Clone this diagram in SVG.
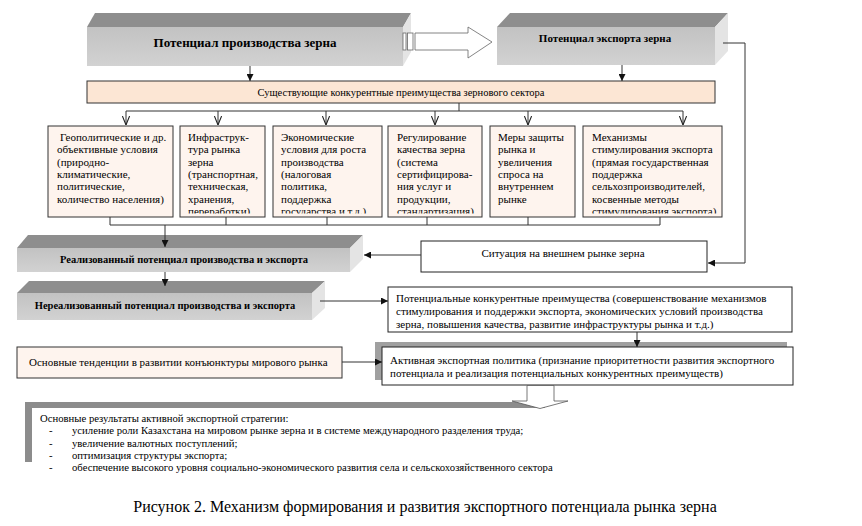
<svg xmlns="http://www.w3.org/2000/svg" width="862" height="526" viewBox="0 0 862 526">
<defs>
<style>
text{font-family:"Liberation Serif","Times New Roman",serif;fill:#000}
.t{font-size:11px}
.r{font-size:10.7px}
.b{font-weight:bold;font-size:11px}
.top{fill:#8e8e8e}
.front{fill:url(#fg)}
.side{fill:#e4e4e4}
.box{fill:#fef4ee;stroke:#333;stroke-width:1}
.wbox{fill:#fff;stroke:#222;stroke-width:1}
.ln{fill:none;stroke:#333;stroke-width:1}
</style>
<linearGradient id="fg" x1="0" y1="0" x2="0" y2="1">
<stop offset="0" stop-color="#c2c2c2"/>
<stop offset="1" stop-color="#d2d2d2"/>
</linearGradient>
<marker id="ah" viewBox="0 0 10 10" refX="10" refY="5" markerWidth="7" markerHeight="7" orient="auto" markerUnits="userSpaceOnUse">
<path d="M0,0 L10,5 L0,10 z" fill="#111"/>
</marker>
<marker id="av" viewBox="0 0 10 10" refX="10" refY="5" markerWidth="9" markerHeight="9" orient="auto" markerUnits="userSpaceOnUse">
<path d="M0,1 L10,5 L0,9" fill="none" stroke="#222" stroke-width="1.2"/>
</marker>
<clipPath id="c6"><rect x="40" y="126" width="700" height="87.5"/></clipPath>
</defs>

<g id="prod-potential">
<polygon class="top" points="87,27 95,13 411,13 403,27"/>
<rect class="front" x="87" y="27" width="316" height="39"/>
<polygon class="side" points="403,27 411,13 411,52 403,66"/>
<text class="b" style="font-size:13px" x="245" y="47" text-anchor="middle">Потенциал производства зерна</text>
</g>

<g id="striped-arrow">
<rect x="403" y="33" width="3" height="17" fill="#fff" stroke="#666" stroke-width="0.8"/>
<rect x="407.5" y="33" width="5.5" height="17" fill="#fff" stroke="#666" stroke-width="0.8"/>
<polygon points="415,33 468,33 468,27 492,42 468,58 468,50 415,50" fill="#fff" stroke="#666" stroke-width="0.8"/>
</g>

<g id="export-potential">
<polygon class="top" points="497,27 510,13 728,13 715,27"/>
<rect class="front" x="497" y="27" width="218" height="38"/>
<polygon class="side" points="715,27 728,13 728,51 715,65"/>
<text class="b" x="605" y="42" text-anchor="middle">Потенциал экспорта зерна</text>
</g>

<g id="existing-advantages">
<rect x="87" y="81" width="628" height="22" fill="#fce6d4" stroke="#333"/>
<text class="t" style="font-size:10.5px" x="401" y="96" text-anchor="middle">Существующие конкурентные преимущества зернового сектора</text>
</g>

<g id="geo">
<rect class="box" x="48" y="126" width="125" height="91"/>
<text class="t" clip-path="url(#c6)" x="60" y="141">Геополитические и др.<tspan x="57" dy="12.3">объективные условия</tspan><tspan x="57" dy="12.3">(природно-</tspan><tspan x="57" dy="12.3">климатические,</tspan><tspan x="57" dy="12.3">политические,</tspan><tspan x="57" dy="12.3">количество населения)</tspan></text>
</g>
<g id="infra">
<rect class="box" x="180" y="126" width="85" height="91"/>
<text class="t" clip-path="url(#c6)" x="188" y="141">Инфраструк-<tspan x="188" dy="12.3">тура рынка</tspan><tspan x="188" dy="12.3">зерна</tspan><tspan x="188" dy="12.3">(транспортная,</tspan><tspan x="188" dy="12.3">техническая,</tspan><tspan x="188" dy="12.3">хранения,</tspan><tspan x="188" dy="12.3">переработки)</tspan></text>
</g>
<g id="econ">
<rect class="box" x="273" y="126" width="109" height="91"/>
<text class="t" clip-path="url(#c6)" x="281" y="141">Экономические<tspan x="281" dy="12.3">условия для роста</tspan><tspan x="281" dy="12.3">производства</tspan><tspan x="281" dy="12.3">(налоговая</tspan><tspan x="281" dy="12.3">политика,</tspan><tspan x="281" dy="12.3">поддержка</tspan><tspan x="281" dy="12.3">государства и т.д.)</tspan></text>
</g>
<g id="quality">
<rect class="box" x="388" y="126" width="94" height="91"/>
<text class="t" clip-path="url(#c6)" x="397" y="141">Регулирование<tspan x="397" dy="12.3">качества зерна</tspan><tspan x="397" dy="12.3">(система</tspan><tspan x="397" dy="12.3">сертифицирова-</tspan><tspan x="397" dy="12.3">ния услуг и</tspan><tspan x="397" dy="12.3">продукции,</tspan><tspan x="397" dy="12.3">стандартизация)</tspan></text>
</g>
<g id="protection">
<rect class="box" x="490" y="126" width="85" height="91"/>
<text class="t" clip-path="url(#c6)" x="498" y="141">Меры защиты<tspan x="498" dy="12.3">рынка и</tspan><tspan x="498" dy="12.3">увеличения</tspan><tspan x="498" dy="12.3">спроса на</tspan><tspan x="498" dy="12.3">внутреннем</tspan><tspan x="498" dy="12.3">рынке</tspan></text>
</g>
<g id="stimulus">
<rect class="box" x="583" y="126" width="139" height="91"/>
<text class="t" clip-path="url(#c6)" x="592" y="141">Механизмы<tspan x="592" dy="12.3">стимулирования экспорта</tspan><tspan x="592" dy="12.3">(прямая государственная</tspan><tspan x="592" dy="12.3">поддержка</tspan><tspan x="592" dy="12.3">сельхозпроизводителей,</tspan><tspan x="592" dy="12.3">косвенные методы</tspan><tspan x="592" dy="12.3">стимулирования экспорта)</tspan></text>
</g>

<g id="realized">
<polygon class="top" points="17,248 28,235 363,235 350,248"/>
<rect class="front" x="17" y="248" width="333" height="24"/>
<polygon class="side" points="350,248 363,235 363,259 350,272"/>
<text class="b" style="font-size:10.5px" x="184" y="263" text-anchor="middle">Реализованный потенциал производства и экспорта</text>
</g>

<g id="unrealized">
<polygon class="top" points="17,293 29,281 325,281 312,293"/>
<rect class="front" x="17" y="293" width="295" height="27"/>
<polygon class="side" points="312,293 325,281 325,308 312,320"/>
<text class="b" style="font-size:10.5px" x="165" y="309" text-anchor="middle">Нереализованный потенциал производства и экспорта</text>
</g>

<g id="external-market">
<rect class="wbox" x="421" y="241" width="286" height="31"/>
<text class="t" x="563" y="257" text-anchor="middle">Ситуация на внешнем рынке зерна</text>
</g>

<g id="potential-advantages">
<rect class="wbox" x="388" y="287" width="404" height="45"/>
<text class="t" x="396" y="302">Потенциальные конкурентные преимущества (совершенствование механизмов<tspan x="396" dy="13">стимулирования и поддержки экспорта,  экономических условий производства</tspan><tspan x="396" dy="13">зерна, повышения  качества, развитие инфраструктуры рынка и т.д.)</tspan></text>
</g>

<g id="world-trends">
<rect class="box" x="17" y="347" width="325" height="31"/>
<text class="t" x="29" y="366">Основные тенденции в развитии конъюнктуры мирового рынка</text>
</g>

<g id="active-policy">
<rect x="375" y="342" width="412" height="38" fill="#a0a0a0"/>
<rect class="wbox" x="382" y="347" width="411" height="38"/>
<text class="t" x="390" y="364">Активная экспортная политика (признание приоритетности развития экспортного<tspan x="390" dy="12.5">потенциала и реализация потенциальных конкурентных преимуществ)</tspan></text>
</g>

<g id="results">
<rect x="25" y="402" width="520" height="60" fill="#8c8c8c"/>
<rect x="32" y="408" width="580" height="72" fill="#fff"/>
<text class="r" x="40" y="422">Основные результаты активной экспортной стратегии:</text>
<text class="r" x="49" y="434">-</text><text class="r" x="72" y="434">усиление роли Казахстана на мировом рынке зерна и в системе международного разделения труда;</text>
<text class="r" x="49" y="447">-</text><text class="r" x="72" y="447">увеличение валютных поступлений;</text>
<text class="r" x="49" y="459">-</text><text class="r" x="72" y="459">оптимизация  структуры экспорта;</text>
<text class="r" x="49" y="471">-</text><text class="r" x="72" y="471">обеспечение высокого уровня социально-экономического развития села и сельскохозяйственного сектора</text>
</g>

<g id="connectors">
<line class="ln" x1="250" y1="66" x2="250" y2="81" marker-end="url(#ah)"/>
<line class="ln" x1="622" y1="65" x2="622" y2="81" marker-end="url(#ah)"/>
<polyline class="ln" points="459,103 459,111"/>
<line class="ln" x1="126" y1="111" x2="683" y2="111"/>
<line class="ln" x1="126" y1="111" x2="126" y2="125" marker-end="url(#av)"/>
<line class="ln" x1="218" y1="111" x2="218" y2="125" marker-end="url(#av)"/>
<line class="ln" x1="326" y1="111" x2="326" y2="125" marker-end="url(#av)"/>
<line class="ln" x1="435" y1="111" x2="435" y2="125" marker-end="url(#av)"/>
<line class="ln" x1="528" y1="111" x2="528" y2="125" marker-end="url(#av)"/>
<line class="ln" x1="683" y1="111" x2="683" y2="125" marker-end="url(#av)"/>
<line class="ln" x1="110" y1="217" x2="110" y2="225"/>
<line class="ln" x1="226" y1="217" x2="226" y2="225"/>
<line class="ln" x1="327" y1="217" x2="327" y2="225"/>
<line class="ln" x1="427" y1="217" x2="427" y2="225"/>
<line class="ln" x1="528" y1="217" x2="528" y2="225"/>
<line class="ln" x1="660" y1="217" x2="660" y2="225"/>
<line class="ln" x1="110" y1="225" x2="660" y2="225"/>
<line class="ln" x1="165" y1="225" x2="165" y2="247" marker-end="url(#ah)"/>
<line class="ln" x1="165" y1="272" x2="165" y2="286" marker-end="url(#ah)"/>
<polyline class="ln" points="723,43 745,43 745,263 708,263" marker-end="url(#ah)"/>
<line class="ln" x1="421" y1="255" x2="364" y2="255" marker-end="url(#ah)"/>
<line class="ln" x1="320" y1="301" x2="388" y2="301" marker-end="url(#ah)"/>
<line class="ln" x1="637" y1="332" x2="637" y2="347" marker-end="url(#ah)"/>
<line class="ln" x1="342" y1="362" x2="382" y2="362" marker-end="url(#ah)"/>
<polygon points="527,385.5 554,385.5 554,401 568,401 540,408.5 512,401 527,401" fill="#fff" stroke="#555" stroke-width="0.8"/>
</g>

<text x="425" y="512" text-anchor="middle" style="font-size:16px">Рисунок 2. Механизм формирования и развития экспортного потенциала рынка зерна</text>
</svg>
